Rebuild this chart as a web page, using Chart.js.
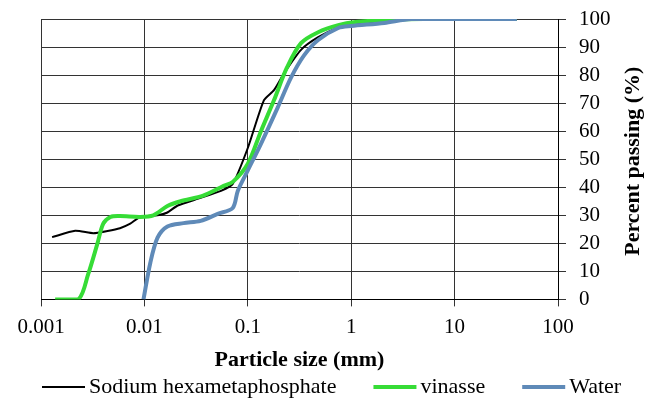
<!DOCTYPE html>
<html>
<head>
<meta charset="utf-8">
<script src="https://cdn.jsdelivr.net/npm/chart.js@4.4.1/dist/chart.umd.min.js"></script>
<style>
  html, body { margin: 0; padding: 0; background: #fff; }
  #wrap { width: 657px; height: 398px; position: relative; }
</style>
</head>
<body>
<div id="wrap"><canvas id="psdChart"></canvas></div>
<script>
// ---- data ----
const X_TICKS = [0.001, 0.01, 0.1, 1, 10, 100];
const X_TICK_LABELS = ["0.001", "0.01", "0.1", "1", "10", "100"];

const SERIES_NAMES = ["Sodium hexametaphosphate", "vinasse", "Water"];

const shmpSize = [0.00128, 0.00214, 0.0032, 0.0044, 0.0058, 0.0073, 0.0087, 0.0102, 0.0134, 0.0167, 0.021, 0.035, 0.055, 0.0715, 0.1, 0.143, 0.179, 0.224, 0.327, 0.479, 0.75, 1.0, 2.0, 5.0, 40];
const shmpPass = [22.2, 24.5, 23.6, 24.4, 25.4, 27, 29, 29.7, 30, 31, 33.5, 36.2, 38.7, 41.2, 54, 71, 74.6, 80.6, 89, 93.5, 97, 98.2, 99.3, 100, 100];

const vinSize = [0.00137, 0.0023, 0.00286, 0.0035, 0.004, 0.0047, 0.0058, 0.0091, 0.0122, 0.0167, 0.0224, 0.037, 0.0585, 0.072, 0.1, 0.134, 0.179, 0.24, 0.327, 0.479, 0.75, 1.1, 2.5, 5.0, 40];
const vinPass = [0, 0, 9, 19.7, 27, 29.4, 29.7, 29.4, 30, 33.3, 35, 37, 40.5, 42, 48.4, 60, 71, 82.8, 91.4, 95.3, 97.8, 98.9, 99.8, 100, 100];

const waterSize = [0.0098, 0.0114, 0.0134, 0.0167, 0.0239, 0.035, 0.0512, 0.0715, 0.08, 0.1, 0.134, 0.195, 0.261, 0.35, 0.479, 0.75, 1.0, 2.09, 3.83, 40];
const waterPass = [0, 13, 22, 26, 27.2, 28, 30.5, 32.6, 38.7, 46, 55.5, 68.5, 79, 87, 92.5, 96.8, 97.5, 98.6, 100, 100];

const COLORS = ["#000000", "#36dc36", "#5f8ab8"];
const FONT = "'Liberation Serif', 'Times New Roman', serif";

const toPoints = (xs, ys) => xs.map((x, i) => ({ x, y: ys[i] }));

// y title reads bottom-to-top on the right, Chart.js turns a right title the other way
const rightTitle = {
  id: "rightTitle",
  afterDraw(chart) {
    const { ctx, chartArea } = chart;
    ctx.save();
    ctx.translate(633, (chartArea.top + chartArea.bottom) / 2 + 2);
    ctx.rotate(-Math.PI / 2);
    ctx.font = "bold 22px " + FONT;
    ctx.fillStyle = "#000";
    ctx.textAlign = "center";
    ctx.textBaseline = "middle";
    ctx.fillText("Percent passing (%)", 0, 0);
    ctx.restore();
  },
};

// legend in one row under the axis title: short line sample, name right after it
const lineLegend = {
  id: "lineLegend",
  afterDraw(chart) {
    const { ctx } = chart;
    const y = 387;
    let x = 42;
    ctx.save();
    ctx.font = "22px " + FONT;
    ctx.textBaseline = "middle";
    ctx.textAlign = "left";
    chart.data.datasets.forEach((ds) => {
      ctx.strokeStyle = ds.borderColor;
      ctx.lineWidth = ds.borderWidth;
      ctx.beginPath();
      ctx.moveTo(x, y);
      ctx.lineTo(x + 43, y);
      ctx.stroke();
      ctx.fillStyle = "#000";
      ctx.fillText(ds.label, x + 47, y);
      x += 47 + ctx.measureText(ds.label).width + 37;
    });
    ctx.restore();
  },
};

new Chart(document.getElementById("psdChart"), {
  type: "line",
  data: {
    datasets: [
      { label: SERIES_NAMES[0], data: toPoints(shmpSize, shmpPass), borderColor: COLORS[0], backgroundColor: COLORS[0], borderWidth: 2, tension: 0.2, order: 2 },
      { label: SERIES_NAMES[1], data: toPoints(vinSize, vinPass), borderColor: COLORS[1], backgroundColor: COLORS[1], borderWidth: 4, tension: 0.3, order: 1 },
      { label: SERIES_NAMES[2], data: toPoints(waterSize, waterPass), borderColor: COLORS[2], backgroundColor: COLORS[2], borderWidth: 4, tension: 0.3, order: 0 },
    ],
  },
  options: {
    responsive: true,
    maintainAspectRatio: false,
    animation: false,
    parsing: false,
    elements: { point: { radius: 0 } },
    layout: { padding: { left: 41, right: 47, top: 19, bottom: 24 } },
    plugins: {
      tooltip: { enabled: false },
      legend: { display: false },
    },
    scales: {
      x: {
        type: "logarithmic",
        min: 0.001,
        max: 100,
        afterBuildTicks: (axis) => {
          axis.ticks = X_TICKS.map((v) => ({ value: v }));
        },
        grid: { color: "#333", lineWidth: 1, tickLength: 7 },
        border: { color: "#000" },
        ticks: {
          color: "#000",
          font: { family: FONT, size: 21 },
          maxRotation: 0,
          autoSkip: false,
          padding: 8,
          callback: (v) => X_TICK_LABELS[X_TICKS.indexOf(v)] ?? "",
        },
        title: {
          display: true,
          text: "Particle size (mm)",
          color: "#000",
          font: { family: FONT, size: 22, weight: "bold" },
          padding: { top: 0, bottom: 0 },
        },
      },
      y: {
        position: "right",
        min: 0,
        max: 100,
        afterFit: (s) => {
          s.width = 52;
          s.paddingTop = 10;
          s.paddingBottom = 10;
        },
        grid: { color: "#333", lineWidth: 1, tickLength: 8 },
        border: { color: "#000" },
        ticks: {
          stepSize: 10,
          autoSkip: false,
          color: "#000",
          font: { family: FONT, size: 21 },
          padding: 13,
        },
      },
    },
  },
  plugins: [rightTitle, lineLegend],
});
</script>
</body>
</html>
